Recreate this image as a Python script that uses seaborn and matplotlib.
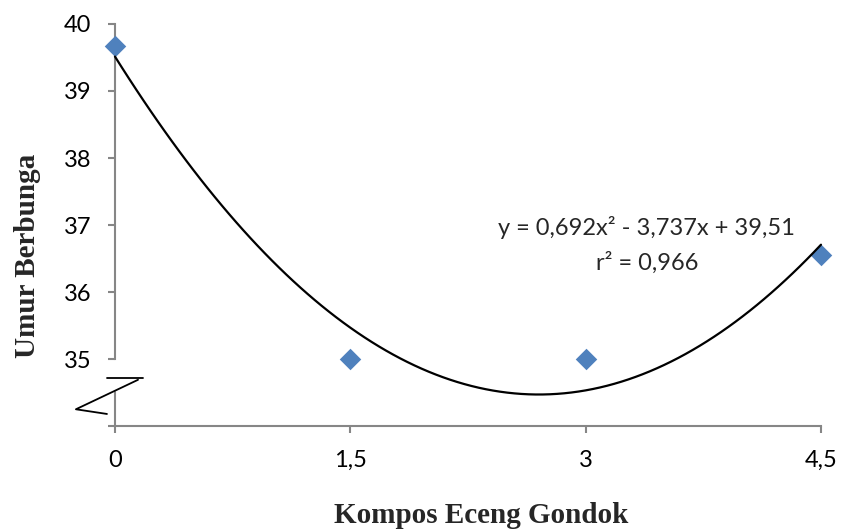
import matplotlib
matplotlib.use("Agg")
import matplotlib.pyplot as plt
import seaborn as sns
import pandas as pd

# data
kompos = [0, 1.5, 3, 4.5]
umur = [39.67, 35.0, 35.0, 36.55]
x_ticks = [0, 1.5, 3, 4.5]
x_labels = ["0", "1,5", "3", "4,5"]
y_ticks = [34, 35, 36, 37, 38, 39, 40]
y_labels = ["", "35", "36", "37", "38", "39", "40"]
eq_text = "y = 0,692x\u00b2 - 3,737x + 39,51"
r2_text = "r\u00b2 = 0,966"

df = pd.DataFrame({"Kompos": kompos, "Umur": umur})

sns.set_style("white")
plt.rcParams["font.family"] = ["Lato", "DejaVu Sans"]

fig = plt.figure(figsize=(8.41, 5.32), dpi=100)
ax = fig.add_axes([0.1367, 0.1992, 0.8395, 0.7557])

sns.regplot(data=df, x="Kompos", y="Umur", order=2, ci=None, ax=ax,
            marker="D",
            scatter_kws={"color": "#4F81BD", "s": 120, "alpha": 1, "zorder": 3,
                         "linewidths": 0, "clip_on": False},
            line_kws={"color": "black", "lw": 1.6, "zorder": 4, "clip_on": False})

ax.set_xlim(0, 4.5)
ax.set_ylim(34, 40)
ax.set_xticks(x_ticks)
ax.set_xticklabels(x_labels)
ax.set_yticks(y_ticks)
ax.set_yticklabels(y_labels)
ax.set_xlabel("")
ax.set_ylabel("")

axis_gray = "#868686"
for s in ["top", "right"]:
    ax.spines[s].set_visible(False)
for s in ["left", "bottom"]:
    ax.spines[s].set_color(axis_gray)
    ax.spines[s].set_linewidth(1.5)
ax.spines["left"].set_bounds(35, 40)
ax.tick_params(axis="both", direction="out", length=5, width=1.5, color=axis_gray,
               labelsize=17, labelcolor="black", bottom=True, left=True)
ax.tick_params(axis="y", pad=12)
ax.tick_params(axis="x", pad=12)

# lower piece of the broken y axis and the break sign
ax.plot([0, 0], [34, 34.51], color=axis_gray, lw=1.5, clip_on=False, zorder=2)
ax.plot([-0.051, 0.178], [34.72, 34.72], color="black", lw=1.3, clip_on=False)
ax.plot([0.147, -0.249, -0.051], [34.69, 34.25, 34.18], color="black", lw=1.3,
        clip_on=False)

ax.text(3.39, 36.96, eq_text, ha="center", va="center", fontsize=17)
ax.text(3.39, 36.43, r2_text, ha="center", va="center", fontsize=17)

fig.text(0.572, 0.031, "Kompos Eceng Gondok", ha="center", va="center",
         fontsize=21, fontweight="bold", family="Liberation Serif")
fig.text(0.033, 0.519, "Umur Berbunga", ha="center", va="center", rotation=90,
         fontsize=21, fontweight="bold", family="Liberation Serif")

fig.savefig("out.png", dpi=100)
